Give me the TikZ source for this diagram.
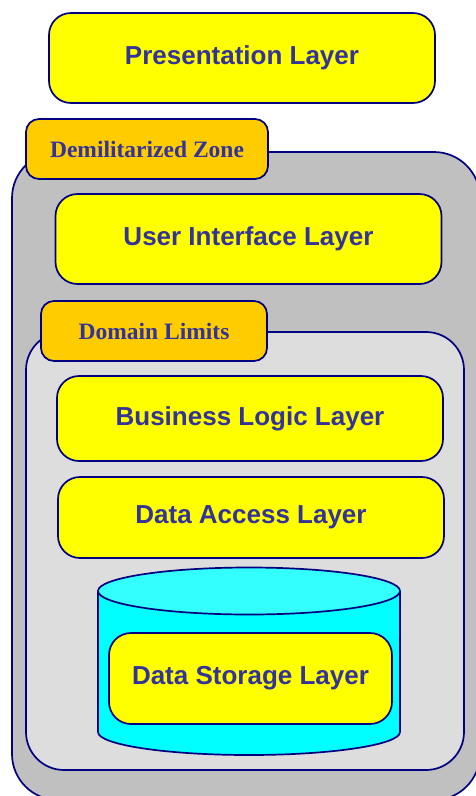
\documentclass[tikz,border=0pt]{standalone}
\usepackage{fontspec}
\setmainfont{Liberation Serif}
\newfontfamily\layerfont{Liberation Sans}
\definecolor{navy}{HTML}{000080}
\definecolor{labelblue}{HTML}{333399}
\definecolor{layeryellow}{HTML}{FFFF00}
\definecolor{tabgold}{HTML}{FFCC00}
\definecolor{zonegray}{HTML}{C0C0C0}
\definecolor{domaingray}{HTML}{DDDDDD}
\definecolor{storecyan}{HTML}{00FFFF}
\definecolor{lidcyan}{HTML}{33FFFF}
\begin{document}
\begin{tikzpicture}[x=1pt, y=-1pt,
        layer/.style={draw=navy, line width=1.7pt, fill=layeryellow, rounded corners=22pt,
            minimum width=386pt, minimum height=88pt, text=labelblue,
            font=\layerfont\bfseries\fontsize{26}{30}\selectfont},
        tab/.style={draw=navy, line width=1.7pt, fill=tabgold, rounded corners=13pt,
            minimum height=60pt, text=labelblue,
            font=\bfseries\fontsize{23.5}{28}\selectfont},
        region/.style={draw=navy, line width=1.7pt}]
        \useasboundingbox (0,0) rectangle (476,796);
        \clip (0,0) rectangle (476,796);

        % presentation
        \node[layer, minimum height=90pt] (present) at (242,58) {Presentation Layer};

        % demilitarized zone
        \draw[region, fill=zonegray, rounded corners=46pt] (12,152) rectangle (480,800);
        \node[tab, minimum width=242pt] (dmz) at (147,149) {Demilitarized Zone};
        \node[layer, minimum height=90pt] (ui) at (248.5,239) {User Interface Layer};

        % domain limits
        \draw[region, fill=domaingray, rounded corners=38pt] (26,332) rectangle (464,770);
        \node[tab, minimum width=226pt] (domain) at (154,331) {Domain Limits};
        \node[layer, minimum height=85pt] (logic) at (250,418.5) {Business Logic Layer};
        \node[layer, minimum height=81pt] (access) at (251,517.5) {Data Access Layer};

        % storage cylinder
        \draw[region, fill=storecyan] (98,591) -- (98,732)
            arc[start angle=180, end angle=0, x radius=151, y radius=23] -- (400,591);
        \draw[region, fill=lidcyan] (249,591) ellipse [x radius=151, y radius=23.5];
        \node[layer, minimum width=283pt, minimum height=91pt] (store) at (250.5,678.5) {Data Storage Layer};
    \end{tikzpicture}
\end{document}
